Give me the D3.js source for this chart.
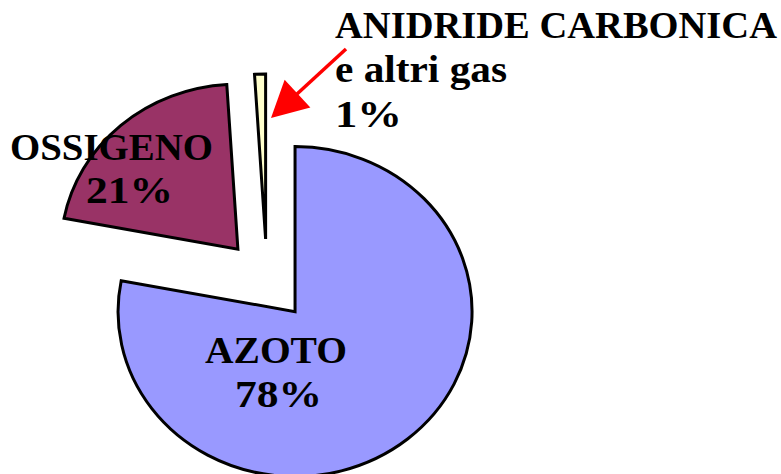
<!DOCTYPE html>
<meta charset="utf-8">
<style>
body { margin: 0; background: #fff; }
</style>
<svg width="781" height="474"></svg>
<script src="https://d3js.org/d3.v7.min.js"></script>
<script>

var categories = ["AZOTO", "OSSIGENO", "ANIDRIDE CARBONICA"];
var subtitles = ["", "", "e altri gas"];
var values = [78, 21, 1];
var colors = ["#9999ff", "#993366", "#ffffcc"];

// layout: pie centre, radii (picture is slightly squashed), explode distance
var cx = 267, cy = 280, rx = 177, ry = 165, explode = 44;

// label lines: [x, baseline, width] per line, per slice
var labelPos = [
  [[205, 363, 142], [235, 407, 87]],
  [[10, 160, 203], [86, 203, 87]],
  [[335, 38, 442], [335, 82, 172], [335, 127, 67]]
];
var arrow = {x1: 346, y1: 49, x2: 271, y2: 118, head: 36, half: 19};

var svg = d3.select("svg");

var data = categories.map(function(c, i) {
  return {name: c, sub: subtitles[i], value: values[i], color: colors[i]};
});

var pie = d3.pie()
    .sort(null)
    .value(function(d) { return d.value; });

var arc = d3.arc()
    .innerRadius(0)
    .outerRadius(rx);

var g = svg.append("g")
    .attr("transform", "translate(" + cx + "," + cy + ") scale(1," + (ry / rx) + ")");

g.selectAll("path")
  .data(pie(data))
  .enter().append("path")
    .attr("d", arc)
    .attr("transform", function(d) {
      var a = (d.startAngle + d.endAngle) / 2;
      return "translate(" + (explode * Math.sin(a)) + "," + (-explode * Math.cos(a)) + ")";
    })
    .attr("fill", function(d) { return d.data.color; })
    .attr("stroke", "#000")
    .attr("stroke-width", 3)
    .attr("stroke-linejoin", "miter")
    .attr("vector-effect", "non-scaling-stroke");

// labels
data.forEach(function(d, i) {
  var lines = [d.name];
  if (d.sub) lines.push(d.sub);
  lines.push(d.value + "%");
  lines.forEach(function(t, j) {
    var p = labelPos[i][j];
    svg.append("text")
        .attr("x", p[0])
        .attr("y", p[1])
        .attr("font-family", "'Liberation Serif', 'Times New Roman', Times, serif")
        .attr("font-weight", "bold")
        .attr("font-size", 37)
        .attr("fill", "#000")
        .attr("textLength", p[2])
        .attr("lengthAdjust", "spacingAndGlyphs")
        .text(t);
  });
});

// red arrow pointing at the small slice
var dx = arrow.x2 - arrow.x1, dy = arrow.y2 - arrow.y1,
    len = Math.sqrt(dx * dx + dy * dy), ux = dx / len, uy = dy / len,
    bx = arrow.x2 - ux * arrow.head, by = arrow.y2 - uy * arrow.head;

svg.append("line")
    .attr("x1", arrow.x1)
    .attr("y1", arrow.y1)
    .attr("x2", bx + ux * 4)
    .attr("y2", by + uy * 4)
    .attr("stroke", "#ff0000")
    .attr("stroke-width", 3.5);

svg.append("path")
    .attr("d", "M" + arrow.x2 + "," + arrow.y2 +
      "L" + (bx - uy * arrow.half) + "," + (by + ux * arrow.half) +
      "L" + (bx + uy * arrow.half) + "," + (by - ux * arrow.half) + "Z")
    .attr("fill", "#ff0000");

</script>
